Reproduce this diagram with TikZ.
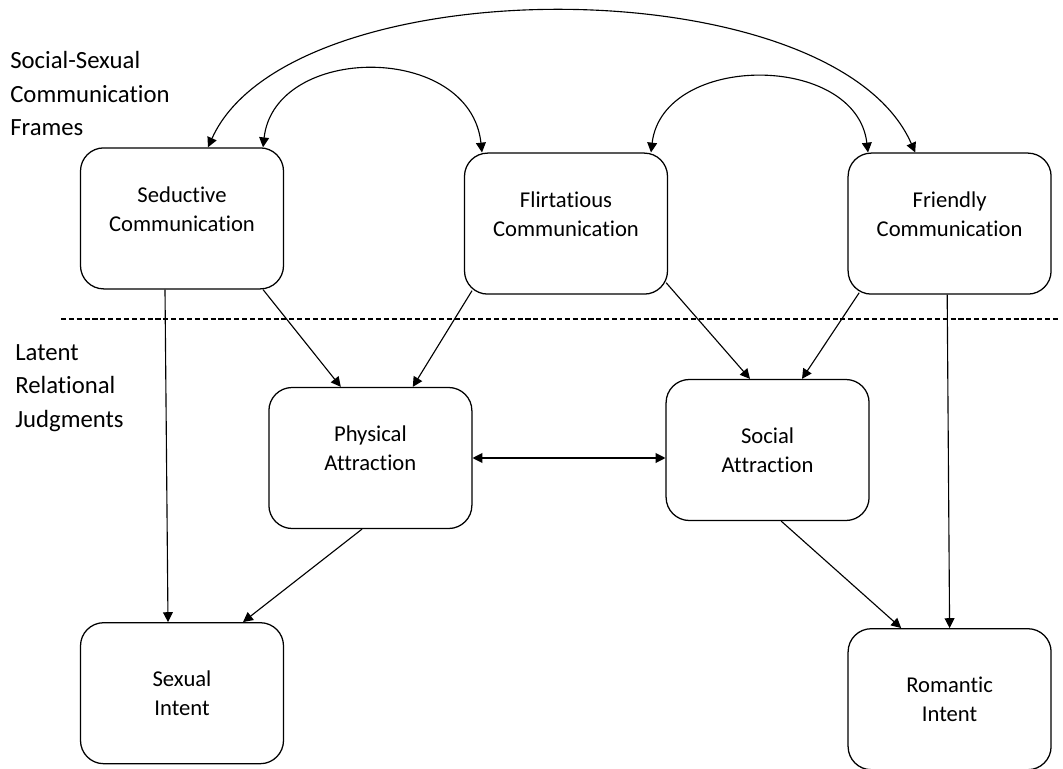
\documentclass[tikz,border=0pt]{standalone}
\usepackage{fontspec}
\setmainfont[Ligatures={NoCommon}]{Carlito}
\usetikzlibrary{arrows.meta}

\begin{document}
\begin{tikzpicture}[
    >={Triangle[length=7pt,width=7pt]},
    box/.style={draw,rounded corners=0.58cm,line width=0.9pt,
        minimum width=5.075cm,minimum height=3.525cm,inner sep=0pt,
        align=center,font=\fontsize{16.1}{20.6}\selectfont},
    raised/.style={text depth=0.47cm},
    heading/.style={anchor=west,align=left,inner sep=0pt,
        font=\fontsize{17.6}{23.7}\selectfont},
    link/.style={line width=0.8pt}
]
\useasboundingbox (0,0) rectangle (26.575,-19.225);

\node [heading] (frames)    at (0.25,  -2.34) {Social-Sexual\\ Communication\\ Frames};
\node [heading] (judgments) at (0.375, -9.70) {Latent\\ Relational\\ Judgments};

\node [box,raised] (seductive)   at ( 4.55,  -5.46) {Seductive\\ Communication};
\node [box,raised] (flirtatious) at (14.15,  -5.59) {Flirtatious\\ Communication};
\node [box,raised] (friendly)    at (23.74,  -5.59) {Friendly\\ Communication};
\node [box,raised] (physical)    at ( 9.26, -11.45) {Physical\\ Attraction};
\node [box]        (social)      at (19.19, -11.25) {Social\\ Attraction};
\node [box]        (sexual)      at ( 4.55, -17.33) {Sexual\\ Intent};
\node [box]        (romantic)    at (23.74, -17.48) {Romantic\\ Intent};

\draw [line width=0.75pt,dash pattern=on 3.6pt off 2pt] (1.525,-7.975) -- (26.5,-7.975);

\draw [link,<->] ([xshift=0.65cm]seductive.north) ..
    controls +(2.05,4.55) and +(-2.05,4.675) .. ([xshift=-0.86cm]friendly.north);
\draw [link,<->] ([xshift=2.025cm]seductive.north) ..
    controls +(0.3,2.6) and +(-0.3,2.75) .. ([xshift=-2.1cm]flirtatious.north);
\draw [link,<->] ([xshift=2.125cm]flirtatious.north) ..
    controls +(0.3,2.5) and +(-0.3,2.5) .. ([xshift=-2.04cm]friendly.north);

\draw [link,->] ([xshift=-0.425cm]seductive.south) -- ([xshift=-0.35cm]sexual.north);
\draw [link,->] ([xshift=2.025cm]seductive.south) -- ([xshift=-0.74cm]physical.north);
\draw [link,->] ([xshift=-2.35cm,yshift=0.1cm]flirtatious.south) -- ([xshift=1.06cm]physical.north);
\draw [link,->] ([shift={(-0.05,0.3)}]flirtatious.south east) -- ([xshift=-0.44cm]social.north);
\draw [link,->] ([xshift=-2.26cm,yshift=0.05cm]friendly.south) -- ([xshift=0.86cm]social.north);
\draw [link,->] ([xshift=-0.06cm]friendly.south) -- (romantic.north);
\draw [link,<->] (physical.east) -- (physical.east -| social.west);
\draw [link,->] ([xshift=-0.21cm]physical.south) -- ([xshift=1.525cm]sexual.north);
\draw [link,->] ([xshift=0.34cm]social.south) -- ([xshift=-1.21cm]romantic.north);
\end{tikzpicture}
\end{document}
